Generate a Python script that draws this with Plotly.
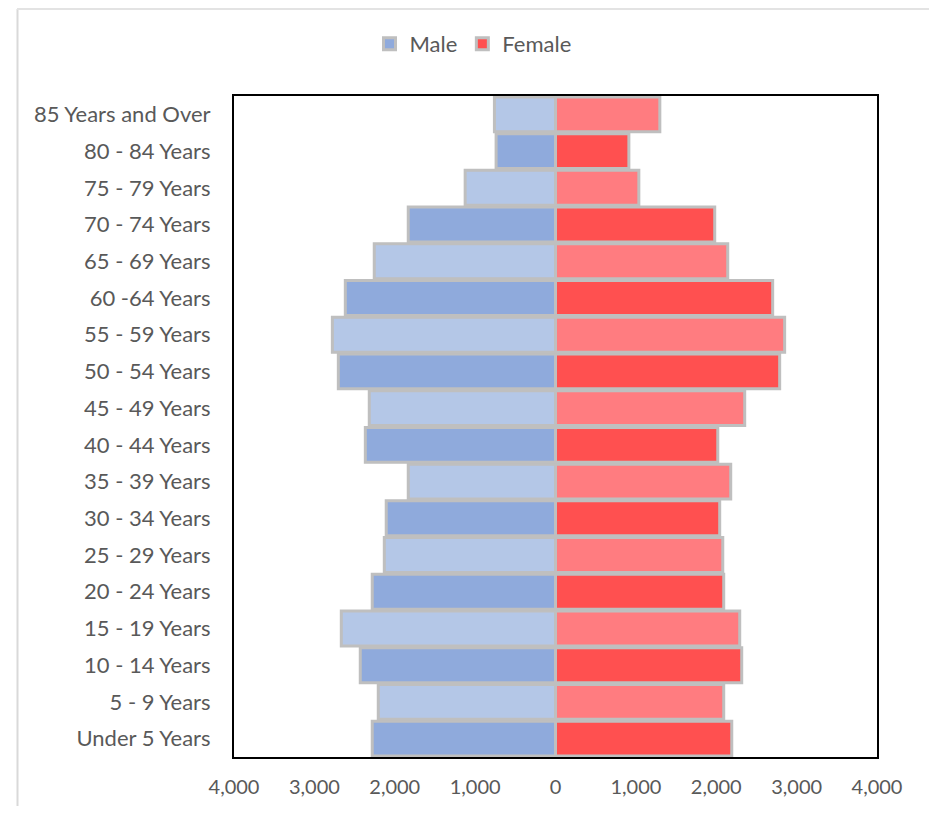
import plotly.graph_objects as go

age_groups = ["Under 5 Years", "5 - 9 Years", "10 - 14 Years", "15 - 19 Years",
              "20 - 24 Years", "25 - 29 Years", "30 - 34 Years", "35 - 39 Years",
              "40 - 44 Years", "45 - 49 Years", "50 - 54 Years", "55 - 59 Years",
              "60 -64 Years", "65 - 69 Years", "70 - 74 Years", "75 - 79 Years",
              "80 - 84 Years", "85 Years and Over"]
male = [2280, 2205, 2429, 2665, 2280, 2130, 2106, 1832, 2366, 2317,
        2702, 2776, 2615, 2255, 1832, 1124, 739, 760]
female = [2193, 2093, 2317, 2292, 2093, 2081, 2043, 2180, 2019, 2354,
          2789, 2851, 2702, 2143, 1981, 1037, 913, 1298]
tick_values = [-4000, -3000, -2000, -1000, 0, 1000, 2000, 3000, 4000]
tick_labels = ["4,000", "3,000", "2,000", "1,000", "0", "1,000", "2,000", "3,000", "4,000"]

male_colors = ["#8faadc" if i % 2 == 0 else "#b4c7e7" for i in range(len(age_groups))]
female_colors = ["#ff5050" if i % 2 == 0 else "#ff7c80" for i in range(len(age_groups))]

fig = go.Figure()
fig.add_trace(go.Bar(
    y=age_groups, x=[-v for v in male], orientation="h", name="Male",
    marker=dict(color=male_colors, line=dict(color="#bfbfbf", width=3)),
    customdata=male, hovertemplate="%{y}: %{customdata:,}<extra>Male</extra>",
))
fig.add_trace(go.Bar(
    y=age_groups, x=female, orientation="h", name="Female",
    marker=dict(color=female_colors, line=dict(color="#bfbfbf", width=3)),
    hovertemplate="%{y}: %{x:,}<extra>Female</extra>",
))

OFF = 8  # page body margin
W, H = 937 - OFF, 814 - 2 * OFF
# plot area in page pixel coordinates
L, R, T, B = 234, 877, 96, 757
Lf, Rf, Tf, Bf = L - OFF, R - OFF, T - OFF, B - OFF


def px(x):
    return (x - L) / (R - L)


def py(y):
    return (B - y) / (B - T)


shapes = [
    dict(type="line", xref="paper", yref="paper", x0=px(17.5), x1=px(17.5), y0=py(9), y1=py(830),
         line=dict(color="#d9d9d9", width=2)),
    dict(type="line", xref="paper", yref="paper", x0=px(17), x1=px(932.5), y0=py(9), y1=py(9),
         line=dict(color="#e3e3e3", width=2)),
    dict(type="line", xref="paper", yref="paper", x0=px(932.5), x1=px(932.5), y0=py(9), y1=py(830),
         line=dict(color="#d9d9d9", width=2)),
]

fig.update_layout(
    width=W, height=H,
    margin=dict(l=Lf, r=W - Rf, t=Tf, b=H - Bf, pad=0, autoexpand=False),
    paper_bgcolor="white", plot_bgcolor="white",
    barmode="relative", bargap=0.05,
    font=dict(family="Lato, Calibri, sans-serif", size=22, color="#595959"),
    legend=dict(orientation="h", x=px(473), xanchor="center", y=py(44), yanchor="middle",
                font=dict(size=22, color="#595959"), itemwidth=30, traceorder="normal"),
    shapes=shapes,
    xaxis=dict(range=[-4000, 4000], tickvals=tick_values, ticktext=tick_labels,
               showgrid=False, zeroline=False, showline=True, mirror=True,
               linecolor="black", linewidth=2, ticks="", ticklabelstandoff=11,
               tickfont=dict(size=20), fixedrange=True, automargin=False),
    yaxis=dict(showgrid=False, zeroline=False, showline=True, mirror=True,
               linecolor="black", linewidth=2, ticks="", ticklabelstandoff=17,
               categoryorder="array", categoryarray=age_groups, automargin=False),
)

fig.write_html("out.html")
